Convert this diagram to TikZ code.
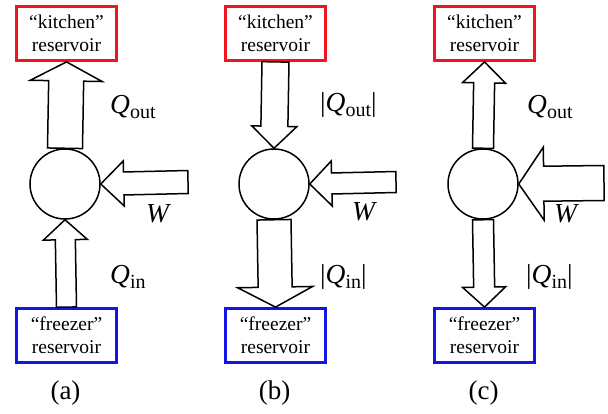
\documentclass[tikz,border=0pt]{standalone}
\usepackage{fontspec}
\setmainfont{Liberation Serif}
\usepackage{tikz}
\usepackage{xcolor}
\usetikzlibrary{calc, positioning}

\definecolor{kitred}{RGB}{240,20,30}
\definecolor{frzblue}{RGB}{20,20,230}

\tikzset{
    resbox/.style={draw, line width=2.8pt, minimum width=100pt, minimum height=54pt, inner sep=0pt, align=center, font=\fontsize{19.5}{23}\selectfont},
    kitchen/.style={resbox, draw=kitred},
    freezer/.style={resbox, draw=frzblue},
    engine/.style={draw, circle, line width=1.5pt, minimum size=70pt, inner sep=0pt},
    fat/.style={draw, fill=white, line width=1.5pt, line join=miter},
    lab/.style={anchor=base west, inner sep=0pt, font=\fontsize{27.5}{27.5}\selectfont},
    panelcap/.style={inner sep=0pt, font=\fontsize{27}{27}\selectfont}
}

% start, tip, shaft half width, head half width, head length
\newcommand{\blockarrow}[5]{%
    \coordinate (hb) at ($(#2)!#5!(#1)$);
    \draw[fat] ($(#1)!#3!90:(#2)$) -- ($(hb)!#3!-90:(#1)$) -- ($(hb)!#4!-90:(#1)$) -- (#2)
        -- ($(hb)!#4!90:(#1)$) -- ($(hb)!#3!90:(#1)$) -- ($(#1)!#3!-90:(#2)$) -- cycle;
}
\newcommand{\heat}[1]{\textit{Q}\raisebox{-0.2em}{\fontsize{20}{20}\selectfont #1}}

\begin{document}
\begin{tikzpicture}[x=1pt, y=-1pt]
    \useasboundingbox (0,0) rectangle (608,413);

    \foreach \x/\p in {66.5/a, 275.5/b, 484.5/c} {
        \node[kitchen] (k\p) at (\x, 33.5) {“kitchen”\\reservoir};
        \node[freezer] (f\p) at (\x, 335.5) {“freezer”\\reservoir};
        \node[engine] (e\p) at (\x-1.5, 184) {};
        \node[panelcap] (c\p) at (\x-1, 393) {(\p)};
    }

    % (a)
    \coordinate (wa) at (188, 182);
    \blockarrow{ea.north}{ka.south}{17.5pt}{36pt}{19pt}
    \blockarrow{fa.north}{ea.south}{10pt}{22pt}{20pt}
    \blockarrow{wa}{ea.east}{11.5pt}{22.5pt}{23pt}
    \node[lab] (qoa) at (110, 113) {\heat{out}};
    \node[lab] (wla) at (146, 222) {\textit{W}};
    \node[lab] (qia) at (110, 283) {\heat{in}};

    % (b)
    \coordinate (wb) at (396, 182);
    \blockarrow{kb.south}{eb.north}{13.5pt}{22.5pt}{22pt}
    \blockarrow{eb.south}{fb.north}{17pt}{37.5pt}{20pt}
    \blockarrow{wb}{eb.east}{10.5pt}{22.5pt}{22pt}
    \node[lab] (qob) at (320, 111) {|\heat{out}|};
    \node[lab] (wlb) at (352, 220) {\textit{W}};
    \node[lab] (qib) at (320, 283) {|\heat{in}|};

    % (c)
    \coordinate (wc) at (604, 183);
    \blockarrow{ec.north}{kc.south}{10.5pt}{21.5pt}{21pt}
    \blockarrow{ec.south}{fc.north}{10.5pt}{21.5pt}{20pt}
    \blockarrow{wc}{ec.east}{17.5pt}{36.5pt}{25pt}
    \node[lab] (qoc) at (527, 113) {\heat{out}};
    \node[lab] (wlc) at (554, 222) {\textit{W}};
    \node[lab] (qic) at (526, 283) {|\heat{in}|};
\end{tikzpicture}
\end{document}
